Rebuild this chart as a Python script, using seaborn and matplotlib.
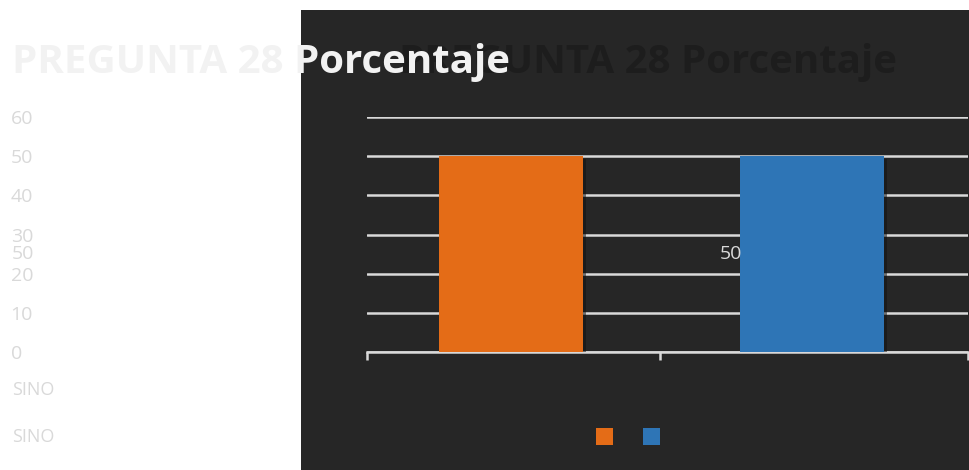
import matplotlib
matplotlib.use("Agg")
import matplotlib.pyplot as plt
import matplotlib.patheffects as pe
from matplotlib.patches import Rectangle, Patch
import seaborn as sns
import pandas as pd

categories = ["SI", "NO"]
values = [50, 50]
colors = ["#E46C17", "#2E75B6"]
yticks = [0, 10, 20, 30, 40, 50, 60]
title = "PREGUNTA 28 Porcentaje"
xlabel_text = "SINO"

sns.set_theme(style="dark")
plt.rcParams["font.family"] = ["Open Sans", "DejaVu Sans"]

W, H = 970, 470
fig = plt.figure(figsize=(9.7, 4.7), dpi=100, facecolor="white")

# dark panel
fig.add_artist(Rectangle((301 / W, 0), 669 / W, 460 / H, transform=fig.transFigure,
                         facecolor="#262626", edgecolor="none", zorder=0))

ax = fig.add_axes([367 / W, (H - 352) / H, 601 / W, 235 / H])
ax.set_facecolor("none")
ax.patch.set_alpha(0)

df = pd.DataFrame({"cat": categories, "val": values})
sns.barplot(data=df, x="cat", y="val", hue="cat", palette=colors, width=0.48,
            saturation=1, linewidth=0, edgecolor="none",
            legend=False, ax=ax, zorder=3)
for p in ax.patches:
    p.set_path_effects([pe.SimplePatchShadow(offset=(2, -2), shadow_rgbFace="#111111", alpha=0.5),
                        pe.Normal()])

x0 = -0.48
ax.set_xlim(x0, x0 + 2)
ax.set_ylim(0, 60)
ax.set_yticks(yticks)
ax.set_yticklabels([str(v) for v in yticks])
ax.set_xticks([x0, x0 + 0.975, x0 + 2])
ax.set_xticklabels(["", "", ""])
ax.set_xlabel("")
ax.set_ylabel("")
ax.grid(axis="y", color="#d9d9d9", linewidth=1.8, zorder=1)
ax.grid(axis="x", visible=False)
for s in ["top", "right", "left"]:
    ax.spines[s].set_visible(False)
ax.spines["bottom"].set_color("#d9d9d9")
ax.spines["bottom"].set_linewidth(1.8)
ax.tick_params(axis="x", which="both", bottom=True, direction="out", length=6,
               width=1.8, color="#d9d9d9")
ax.tick_params(axis="y", left=False, pad=348 * 72 / 100, labelsize=14,
               labelcolor="#d9d9d9")
for lab in ax.get_yticklabels():
    lab.set_horizontalalignment("left")

# data labels (misplaced, as in reference)
ax.text(0.73, values[1] / 2, str(values[1]), color="#d9d9d9", fontsize=14,
        ha="center", va="center", zorder=5)
fig.text(12 / W, 1 - 254 / H, str(values[0]), color="#d9d9d9", fontsize=14,
         ha="left", va="center")

# category labels collapsed
fig.text(12 / W, 1 - 390 / H, xlabel_text, color="#d9d9d9", fontsize=13,
         ha="left", va="center")
fig.text(12 / W, 1 - 437 / H, xlabel_text, color="#d9d9d9", fontsize=13,
         ha="left", va="center")

# titles
fig.text(399 / W, 1 - 73 / H, title, color="#1d1d1d", fontsize=29, fontweight="bold",
         ha="left", va="baseline", zorder=2)
fig.text(12 / W, 1 - 73 / H, title, color="#f2f2f2", fontsize=29, fontweight="bold",
         ha="left", va="baseline", zorder=3)

# legend (no labels)
handles = [Patch(facecolor=c, edgecolor="none") for c in colors]
leg = fig.legend(handles, ["", ""], ncol=2, frameon=False,
                 loc="center", bbox_to_anchor=(628 / W, 1 - 437 / H),
                 handlelength=0.9, handleheight=1.1, handletextpad=0.0,
                 columnspacing=1.7, fontsize=13)

fig.savefig("out.png", dpi=100, facecolor="white")
